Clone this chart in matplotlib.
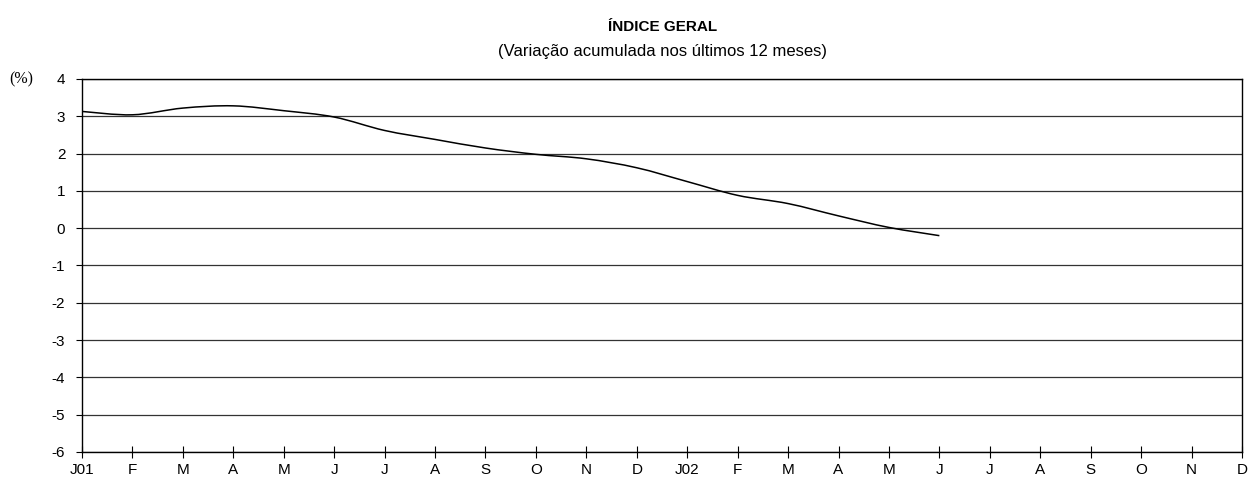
import matplotlib
matplotlib.use("Agg")
from matplotlib import pyplot as plt
from matplotlib.path import Path
from matplotlib.patches import PathPatch
import numpy as np

# meses (jan/2001 a dez/2002)
meses = ['J01', 'F', 'M', 'A', 'M', 'J', 'J', 'A', 'S', 'O', 'N', 'D',
         'J02', 'F', 'M', 'A', 'M', 'J', 'J', 'A', 'S', 'O', 'N', 'D']
# variacao acumulada 12 meses (%), jan/01 a jun/02
indice = [3.13, 3.04, 3.22, 3.28, 3.15, 2.98, 2.62, 2.38, 2.15, 1.98,
          1.86, 1.62, 1.25, 0.88, 0.66, 0.33, 0.02, -0.20]
yticks = [4, 3, 2, 1, 0, -1, -2, -3, -4, -5, -6]

plt.rcParams['font.family'] = ['Liberation Sans', 'DejaVu Sans']
plt.rcParams['axes.unicode_minus'] = False

fig = plt.figure(figsize=(12.54, 4.87), dpi=100)
ax = fig.add_axes([0.0654, 0.0719, 0.925, 0.7659])

# linha suavizada (estilo Excel) - curvas de Bezier a partir dos pontos
x = np.arange(len(indice), dtype=float)
y = np.array(indice)
verts = [(x[0], y[0])]
codes = [Path.MOVETO]
n = len(x)
for i in range(n - 1):
    p0 = (x[max(i - 1, 0)], y[max(i - 1, 0)])
    p1 = (x[i], y[i])
    p2 = (x[i + 1], y[i + 1])
    p3 = (x[min(i + 2, n - 1)], y[min(i + 2, n - 1)])
    c1 = (p1[0] + (p2[0] - p0[0]) / 6, p1[1] + (p2[1] - p0[1]) / 6)
    c2 = (p2[0] - (p3[0] - p1[0]) / 6, p2[1] - (p3[1] - p1[1]) / 6)
    verts += [c1, c2, p2]
    codes += [Path.CURVE4] * 3
ax.add_patch(PathPatch(Path(verts, codes), facecolor='none',
                       edgecolor='black', lw=1.1, zorder=3))

ax.set_xlim(0, len(meses) - 1)
ax.set_ylim(-6, 4)
ax.set_yticks(yticks)
ax.set_xticks(range(len(meses)))
ax.set_xticklabels(meses)
ax.yaxis.grid(True, color='#333333', lw=0.9)
ax.set_axisbelow(True)
for s in ax.spines.values():
    s.set_color('black')
    s.set_linewidth(1.0)
ax.tick_params(axis='y', direction='out', length=4, labelsize=11, pad=8)
ax.tick_params(axis='x', direction='inout', length=8, labelsize=11, pad=4)

fig.text(0.007, 0.838, '(%)', family='Liberation Serif', fontsize=11.5,
         va='center', ha='left')
fig.text(0.528, 0.945, 'ÍNDICE GERAL', fontsize=11, fontweight='bold',
         ha='center', va='center')
fig.text(0.528, 0.895, '(Variação acumulada nos últimos 12 meses)',
         fontsize=12, ha='center', va='center')

plt.savefig('out.png', dpi=100)
